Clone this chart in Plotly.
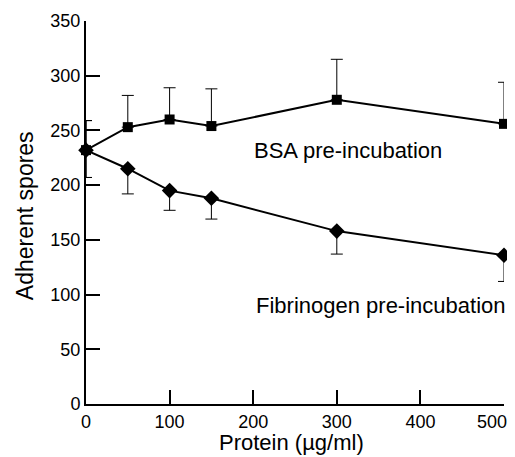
import plotly.graph_objects as go

protein = [0, 50, 100, 150, 300, 500]
bsa = [232, 253, 260, 254, 278, 256]
bsa_err_up = [27, 29, 29, 34, 37, 38]
bsa_err_down = [25, 0, 0, 0, 0, 0]
fib = [232, 215, 195, 188, 158, 136]
fib_err_down = [25, 23, 18, 19, 21, 24]
fib_err_up = [27, 0, 0, 0, 0, 0]

x_ticks = [0, 100, 200, 300, 400, 500]
y_ticks = [0, 50, 100, 150, 200, 250, 300, 350]

FONT = "Liberation Sans, Arial, Helvetica, sans-serif"

fig = go.Figure()
fig.add_trace(go.Scatter(
    x=protein, y=bsa, mode="lines+markers",
    line=dict(color="black", width=2),
    marker=dict(symbol="square", size=10, color="black"),
    error_y=dict(type="data", symmetric=False, array=bsa_err_up, arrayminus=bsa_err_down,
                 color="black", thickness=1, width=6),
    cliponaxis=False, showlegend=False,
))
fig.add_trace(go.Scatter(
    x=protein, y=fib, mode="lines+markers",
    line=dict(color="black", width=2),
    marker=dict(symbol="diamond", size=12, color="black"),
    error_y=dict(type="data", symmetric=False, array=fib_err_up, arrayminus=fib_err_down,
                 color="black", thickness=1, width=6),
    cliponaxis=False, showlegend=False,
))

# last x tick label sits shifted left, inside the figure
x_ticktext = [str(v) for v in x_ticks[:-1]] + [""]
fig.add_annotation(x=0.971, y=-0.047, text=str(x_ticks[-1]), showarrow=False,
                   xref="paper", yref="paper", xanchor="center", yanchor="middle",
                   font=dict(size=18, color="black", family=FONT))

fig.add_annotation(x=0.627, y=0.663, text="BSA pre-incubation", showarrow=False,
                   xref="paper", yref="paper", xanchor="center", yanchor="middle",
                   font=dict(size=22, color="black", family=FONT))
fig.add_annotation(x=1.009, y=0.258, text="Fibrinogen pre-incubation", showarrow=False,
                   xref="paper", yref="paper", xanchor="right", yanchor="middle",
                   font=dict(size=22, color="black", family=FONT))

# axis titles
fig.add_annotation(x=0.492, y=-0.1, text="Protein (µg/ml)", showarrow=False,
                   xref="paper", yref="paper", xanchor="center", yanchor="middle",
                   font=dict(size=22, color="black", family=FONT))
fig.add_annotation(x=-0.146, y=0.493, text="Adherent spores", showarrow=False,
                   xref="paper", yref="paper", xanchor="center", yanchor="middle",
                   textangle=-90,
                   font=dict(size=23, color="black", family=FONT))

fig.update_layout(
    width=507, height=449,
    margin=dict(l=78, r=11, t=13, b=53),
    paper_bgcolor="white", plot_bgcolor="white",
    font=dict(family=FONT, size=18, color="black"),
    xaxis=dict(range=[0, 500], tickvals=x_ticks, ticktext=x_ticktext, ticks="inside",
               ticklen=14, tickwidth=1.5,
               tickcolor="black", showline=True, linecolor="black", linewidth=2,
               showgrid=False, zeroline=False, automargin=False),
    yaxis=dict(range=[0, 350], tickvals=y_ticks, ticks="inside", ticklen=14, tickwidth=1.5,
               tickcolor="black", showline=True, linecolor="black", linewidth=2,
               showgrid=False, zeroline=False, automargin=False),
)

fig.write_html("out.html")
